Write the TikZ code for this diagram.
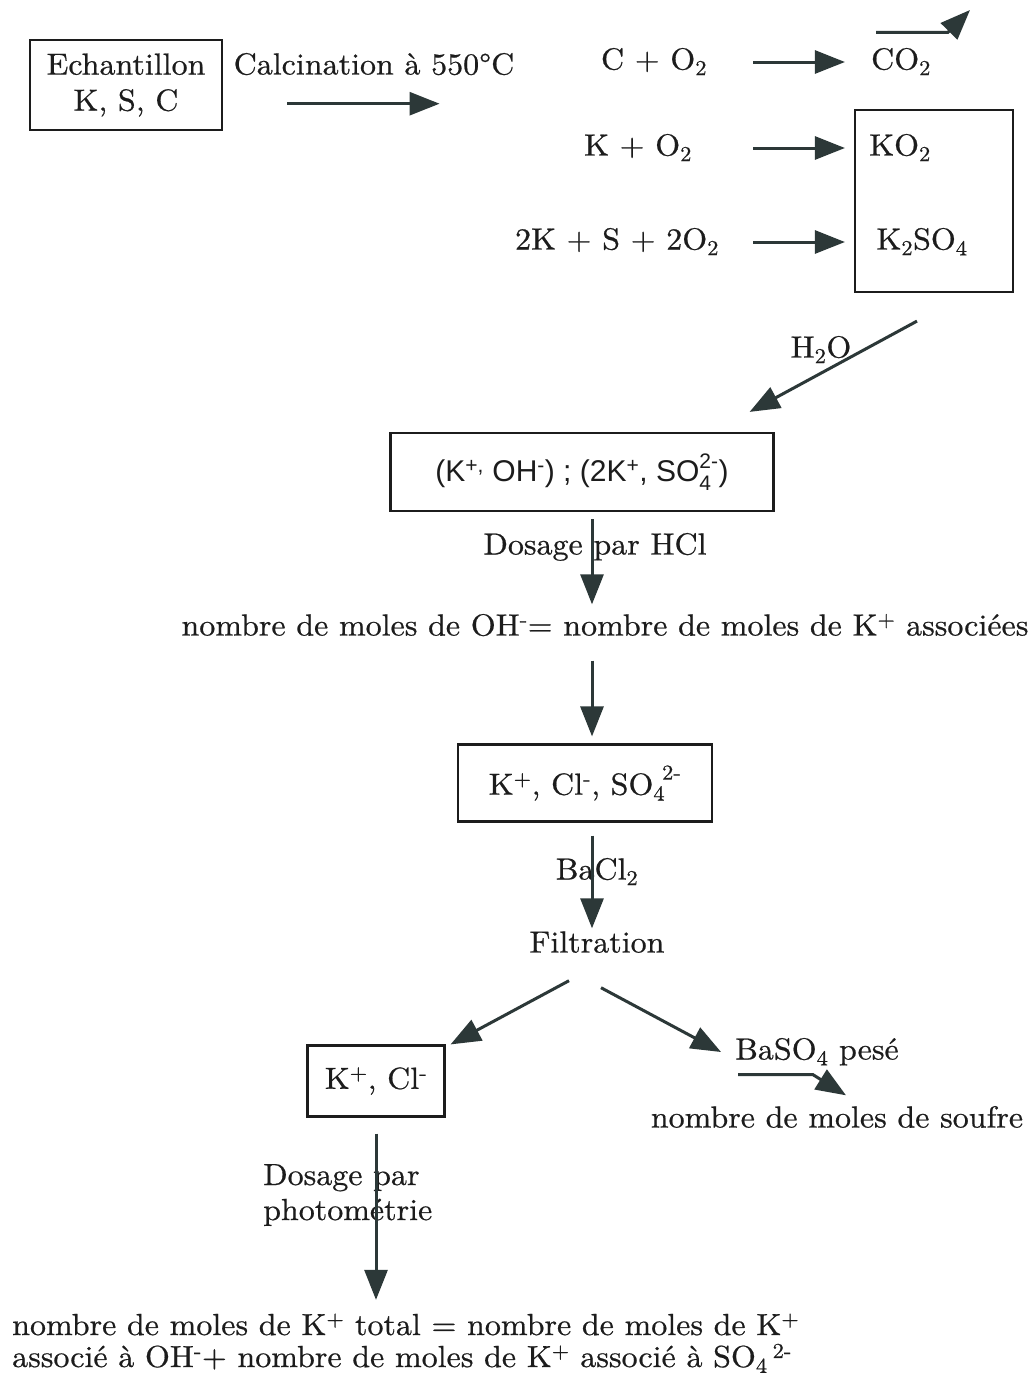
\documentclass[tikz,border=0pt]{standalone}
\usepackage{fontspec}
\setmainfont{lmroman10-regular}[Extension=.otf, FakeStretch=1.05, FakeBold=0.6]
\newfontfamily\helv{Liberation Sans}
\usetikzlibrary{arrows.meta}
\definecolor{arrowgray}{RGB}{44,56,56}
\definecolor{inkgray}{RGB}{28,28,28}

\begin{document}
\begin{tikzpicture}[
    x=1pt, y=-1pt,
    txt/.style={font=\fontsize{30.5}{36}\selectfont, text=inkgray, inner sep=0pt, text height=22pt, text depth=7pt},
    box/.style={draw=inkgray, line width=2.2pt, font=\fontsize{30.5}{36}\selectfont, text=inkgray, align=center, inner sep=0pt},
    flow/.style={-{Triangle[length=30pt, width=23pt]}, line width=3pt, draw=arrowgray}
]
\useasboundingbox[fill=white] (0,0) rectangle (1032,1384);
\coordinate (axis) at (592,0);

% Calcination
\node[box, minimum width=192pt, minimum height=90pt] (ech) at (126,85) {Echantillon\\K, S, C};
\node[txt] (calc) at (374,67) {Calcination à 550°C};
\draw[flow] ([xshift=54pt,yshift=-22pt]calc.south west) -- ([xshift=-75pt,yshift=-22pt]calc.south east);

% Reactions
\node[txt] (r1) at (654,62) {C + O\textsubscript{2}};
\node[txt] (r2) at (638,148) {K + O\textsubscript{2}};
\node[txt] (r3) at (617,242) {2K + S + 2O\textsubscript{2}};
\node[txt] (co) at (901,62) {CO\textsubscript{2}};
\node[box, minimum width=158pt, minimum height=182pt] (prod) at (934,201) {};
\node[txt] (ko) at (900,148) {KO\textsubscript{2}};
\node[txt] (kso) at (922,242) {K\textsubscript{2}SO\textsubscript{4}};
\coordinate (rx) at (753,0);
\foreach \r in {r1,r2,r3}
    \draw[flow, shorten >=9pt] (rx |- \r) -- (prod.west |- \r);
\coordinate (gas) at (970,10);
\draw[flow] ([xshift=-25pt,yshift=15pt]co.north) -- ++(72,0) -- (gas);

% Dissolution
\node[box, minimum width=383pt, minimum height=78pt, font=\helv\fontsize{30}{36}\selectfont] (ions) at (582,472)
    {(K\textsuperscript{+,} OH\textsuperscript{-}) ; (2K\textsuperscript{+}, SO\rlap{\raisebox{-3pt}{\textsubscript{4}}}\raisebox{4pt}{\textsuperscript{2-}})};
\draw[flow] ([xshift=-17pt,yshift=-28pt]prod.south) -- ([xshift=-25pt,yshift=20pt]ions.north east);
\node[txt] (h2o) at (821,350) {H\textsubscript{2}O};

% Dosage par HCl
\node[txt] (hcl) at (595,547) {Dosage par HCl};
\node[txt] (oh) at (605,628) {nombre de moles de OH\textsuperscript{-}= nombre de moles de K\textsuperscript{+} associées};
\draw[flow, shorten <=7pt, shorten >=9pt] (axis |- ions.south) -- (axis |- oh.north);

% Precipitation
\node[box, minimum width=254pt, minimum height=77pt] (kcls) at (585,783)
    {K\textsuperscript{+}, Cl\textsuperscript{-}, SO\textsubscript{4}\kern-3pt\raisebox{6pt}{\textsuperscript{2-}}};
\draw[flow, shorten <=18pt, shorten >=7pt] (axis |- oh.south) -- (axis |- kcls.north);
\node[txt] (bacl) at (597,872) {BaCl\textsubscript{2}};
\node[txt] (filt) at (597,945) {Filtration};
\draw[flow, shorten <=13pt, shorten >=2pt] (axis |- kcls.south) -- (axis |- filt.north);

% Filtrat et precipite
\node[box, minimum width=137pt, minimum height=71pt] (kcl) at (376,1081) {K\textsuperscript{+}, Cl\textsuperscript{-}};
\draw[flow] ([xshift=-28pt,yshift=-21pt]filt.south) -- ([xshift=5pt]kcl.north east);
\node[txt] (baso) at (817,1052) {BaSO\textsubscript{4} pesé};
\draw[flow] ([xshift=4pt,yshift=-28pt]filt.south) -- ([xshift=-14pt]baso.west);
\node[txt] (souf) at (837,1120) {nombre de moles de soufre};
\draw[flow] ([xshift=3pt,yshift=-8pt]baso.south west) -- ++(75,0) -- ([xshift=9pt,yshift=10pt]souf.north);

% Dosage par photometrie
\node[txt, anchor=base west] (dos) at (263,1185) {Dosage par};
\node[txt, anchor=base west] (photo) at (263,1220) {photométrie};
\node[txt, anchor=base west] (fin1) at (12,1335) {nombre de moles de K\textsuperscript{+} total = nombre de moles de K\textsuperscript{+}};
\node[txt, anchor=base west] (fin2) at (12,1367) {associé à OH\textsuperscript{-}+ nombre de moles de K\textsuperscript{+} associé à SO\textsubscript{4}\,\textsuperscript{2-}};
\draw[flow, shorten <=16pt, shorten >=13pt] (kcl.south) -- (kcl.south |- fin1.north);
\end{tikzpicture}
\end{document}
